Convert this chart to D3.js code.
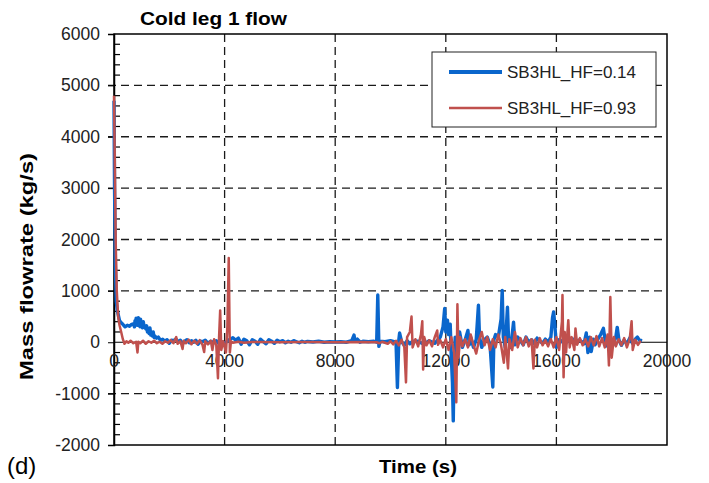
<!DOCTYPE html>
<html>
<head>
<meta charset="utf-8">
<script src="https://cdn.jsdelivr.net/npm/d3@7"></script>
<style>
  body { margin: 0; background: #fff; }
  text { font-family: "Liberation Sans", Arial, sans-serif; }
</style>
</head>
<body>
<svg width="709" height="483"></svg>
<script>
// series: [time (s), mass flowrate (kg/s)]
const seriesNames = ["SB3HL_HF=0.14", "SB3HL_HF=0.93"];
const seriesColors = ["#0a66cc", "#c0504d"];

const blueData = [
  [0,4700],[20,3000],[50,1500],[80,800],[120,620],[160,520],[200,420],[260,380],[320,350],[400,300],
  [480,330],[560,310],[640,350],[700,360],[740,300],[760,420],[790,330],[800,470],[820,360],[840,430],[860,330],[880,480],
  [900,350],[920,380],[940,300],[960,450],[980,320],[1000,340],[1030,280],[1060,400],[1090,290],[1120,300],[1150,260],[1180,320],
  [1210,200],[1240,220],[1270,170],[1300,280],[1330,140],[1360,160],[1390,120],[1420,200],[1450,90],[1480,120],[1540,80],
  [1600,100],[1680,40],[1760,60],[1840,20],[1920,50],[2000,-20],[2080,40],[2160,30],[2240,60],[2320,10],
  [2400,40],[2480,-30],[2560,20],[2640,50],[2720,-10],[2800,30],[2880,0],[2960,40],[3040,-40],[3120,20],
  [3200,10],[3300,40],[3400,-20],[3500,20],[3600,0],[3700,30],[3800,-30],[3900,10],[4000,-20],[4100,20],
  [4200,60],[4300,90],[4400,40],[4500,80],[4600,-40],[4700,60],[4800,30],[4900,-50],[5000,50],[5100,20],
  [5200,-40],[5300,60],[5400,10],[5500,-30],[5600,50],[5700,20],[5800,-20],[5900,40],[6000,10],[6100,30],
  [6200,-10],[6300,20],[6400,0],[6500,30],[6600,10],[6700,-10],[6800,20],[6900,0],[7000,15],[7200,5],
  [7400,20],[7600,0],[7800,10],[8000,5],[8200,10],[8400,0],[8600,30],[8680,140],[8720,20],[8800,60],
  [8900,0],[9000,20],[9200,10],[9400,20],[9500,0],[9540,920],[9580,-80],[9620,20],[9800,10],[10000,30],
  [10200,0],[10250,-880],[10300,40],[10330,180],[10400,10],[10500,-60],[10600,30],[10700,-30],[10800,20],[11000,20],
  [11200,-40],[11400,30],[11600,-20],[11800,100],[11900,300],[11960,660],[12000,200],[12060,430],[12100,150],[12160,350],
  [12200,-300],[12240,-780],[12270,-1530],[12300,-400],[12340,100],[12400,-200],[12500,200],[12600,-100],[12700,50],[12800,230],
  [12850,-50],[12900,100],[13000,-100],[13100,50],[13180,720],[13220,100],[13300,-100],[13400,50],[13500,100],[13600,-50],
  [13700,-870],[13740,50],[13800,150],[13900,100],[14000,450],[14040,1010],[14080,100],[14150,-100],[14230,680],[14270,50],
  [14350,-100],[14450,390],[14500,-50],[14600,100],[14700,30],[14800,-50],[14900,100],[15000,0],[15100,50],[15200,-30],
  [15300,80],[15400,20],[15500,-20],[15600,60],[15700,0],[15800,100],[15860,480],[15900,590],[15950,300],[16000,-100],
  [16100,50],[16200,20],[16300,-50],[16400,40],[16500,0],[16600,60],[16700,-20],[16800,40],[16900,20],[17000,-30],
  [17080,180],[17140,-200],[17200,100],[17260,-180],[17340,60],[17400,-50],[17500,60],[17600,150],[17700,270],[17760,50],
  [17850,-80],[17950,80],[18050,-50],[18150,100],[18200,290],[18260,50],[18350,-60],[18450,40],[18550,-30],[18650,80],
  [18750,-20],[18850,60],[18930,100],[19000,40],[19100,30]
];

const redData = [
  [0,4800],[30,3500],[60,2000],[100,1000],[150,500],[200,330],[260,200],[320,60],[380,-30],[450,20],
  [520,-10],[600,30],[700,-20],[800,10],[850,-200],[880,10],[950,-20],[1050,30],[1150,-30],[1250,20],
  [1350,-10],[1450,30],[1550,-20],[1650,10],[1750,-30],[1850,20],[1950,-10],[2050,40],[2150,-20],[2250,100],
  [2300,-30],[2400,20],[2480,-130],[2520,30],[2600,-20],[2700,50],[2800,-40],[2900,30],[3000,-30],[3100,40],
  [3200,-50],[3260,-190],[3300,20],[3400,-40],[3500,30],[3560,-150],[3620,60],[3700,-60],[3760,-700],[3800,100],
  [3840,620],[3880,-150],[3950,20],[4050,-200],[4100,300],[4150,1640],[4190,-200],[4230,20],[4300,-10],[4500,10],
  [4700,-10],[5000,5],[6000,0],[7000,5],[8000,0],[9000,5],[9500,0],[9600,-20],[9700,10],[9900,-30],
  [10000,20],[10100,-40],[10200,30],[10300,-60],[10400,50],[10500,-100],[10560,-780],[10600,100],[10700,200],[10760,500],
  [10800,-100],[10900,60],[11000,-80],[11100,150],[11150,410],[11180,-530],[11220,100],[11300,-60],[11400,40],[11500,-80],
  [11600,100],[11690,230],[11720,-50],[11800,40],[11900,-100],[12000,60],[12100,-150],[12200,100],[12300,-200],[12380,-1170],
  [12420,740],[12460,-300],[12520,100],[12600,-80],[12700,60],[12800,-100],[12900,150],[13000,-50],[13100,-220],[13200,40],
  [13300,200],[13400,-60],[13500,100],[13600,-150],[13700,60],[13800,-100],[13900,150],[14000,-60],[14100,-400],[14150,100],
  [14250,-510],[14300,60],[14400,-150],[14500,200],[14600,-100],[14700,80],[14800,-60],[14900,100],[15000,-80],[15100,60],
  [15170,-510],[15220,50],[15300,-100],[15400,80],[15500,-60],[15600,40],[15700,-80],[15800,60],[15900,-100],[16000,100],
  [16100,-150],[16200,400],[16220,920],[16260,-680],[16300,200],[16350,-200],[16430,430],[16480,-100],[16550,100],[16650,-150],
  [16690,270],[16750,-50],[16850,80],[16950,-60],[17050,60],[17150,-80],[17250,100],[17350,-60],[17450,120],[17550,-80],
  [17650,80],[17750,-100],[17850,150],[17900,-450],[17950,880],[18000,-300],[18080,100],[18150,-80],[18250,60],[18350,-60],
  [18450,80],[18550,-100],[18650,60],[18720,410],[18760,-150],[18850,50],[18950,-50],[19050,30]
];

const xTicks = [0, 4000, 8000, 12000, 16000, 20000];
const yTicks = [-2000, -1000, 0, 1000, 2000, 3000, 4000, 5000, 6000];

const svg = d3.select("svg");
const plotLeft = 114, plotRight = 667, plotTop = 34, plotBottom = 445;

const x = d3.scaleLinear().domain([0, 20000]).range([plotLeft, plotRight]);
const y = d3.scaleLinear().domain([-2000, 6000]).range([plotBottom, plotTop]);

// dashed grid
svg.append("g")
  .selectAll("line")
  .data(yTicks.filter(d => d !== 0 && d !== 6000 && d !== -2000))
  .join("line")
  .attr("x1", plotLeft - 6).attr("x2", plotRight)
  .attr("y1", d => y(d)).attr("y2", d => y(d))
  .attr("stroke", "#1a1a1a").attr("stroke-width", 1.3)
  .attr("stroke-dasharray", "8,5");

svg.append("g")
  .selectAll("line")
  .data(xTicks.filter(d => d !== 0 && d !== 20000))
  .join("line")
  .attr("x1", d => x(d)).attr("x2", d => x(d))
  .attr("y1", plotTop).attr("y2", plotBottom)
  .attr("stroke", "#1a1a1a").attr("stroke-width", 1.3)
  .attr("stroke-dasharray", "8,5");

// zero line
svg.append("line")
  .attr("x1", plotLeft).attr("x2", plotRight)
  .attr("y1", y(0)).attr("y2", y(0))
  .attr("stroke", "#000").attr("stroke-width", 1.2);

// frame
svg.append("rect")
  .attr("x", plotLeft).attr("y", plotTop)
  .attr("width", plotRight - plotLeft).attr("height", plotBottom - plotTop)
  .attr("fill", "none").attr("stroke", "#000").attr("stroke-width", 1.5);

// y axis
const yAxis = svg.append("g")
  .attr("transform", `translate(${plotLeft},0)`)
  .call(d3.axisLeft(y).tickValues(yTicks).tickSize(6).tickPadding(8).tickFormat(d => String(d)));
yAxis.select(".domain").attr("stroke-width", 1.5);
yAxis.selectAll("text").attr("font-size", 17.5).attr("fill", "#222")
  .attr("font-family", "'Liberation Sans', Arial, sans-serif");

// minor ticks inside
const minor = d3.range(-2000, 6001, 200).filter(d => d % 1000 !== 0);
svg.append("g")
  .selectAll("line")
  .data(minor)
  .join("line")
  .attr("x1", plotLeft).attr("x2", plotLeft + 6)
  .attr("y1", d => y(d)).attr("y2", d => y(d))
  .attr("stroke", "#000").attr("stroke-width", 1.2);

// x tick labels sit under the zero line
svg.append("g")
  .selectAll("text")
  .data(xTicks)
  .join("text")
  .attr("x", d => x(d))
  .attr("y", y(0) + 25)
  .attr("text-anchor", "middle")
  .attr("font-size", 17.5)
  .attr("fill", "#222")
  .text(d => d);

// lines
const line = d3.line().x(d => x(d[0])).y(d => y(d[1]));
svg.append("path")
  .datum(blueData)
  .attr("d", line)
  .attr("fill", "none")
  .attr("stroke", seriesColors[0])
  .attr("stroke-width", 3.4)
  .attr("stroke-linejoin", "round");
svg.append("path")
  .datum(redData)
  .attr("d", line)
  .attr("fill", "none")
  .attr("stroke", seriesColors[1])
  .attr("stroke-width", 2.5)
  .attr("stroke-linejoin", "round");

// legend
const legend = svg.append("g").attr("transform", "translate(432,52)");
legend.append("rect")
  .attr("width", 224).attr("height", 75)
  .attr("fill", "#fff").attr("stroke", "#222").attr("stroke-width", 1);
seriesNames.forEach((name, i) => {
  const ly = 20 + i * 36;
  legend.append("line")
    .attr("x1", 17).attr("x2", 70)
    .attr("y1", ly).attr("y2", ly)
    .attr("stroke", seriesColors[i])
    .attr("stroke-width", i === 0 ? 4 : 2.4);
  legend.append("text")
    .attr("x", 75).attr("y", ly + 6)
    .attr("font-size", 17).attr("fill", "#222")
    .text(name);
});

// titles
svg.append("text")
  .attr("x", 140).attr("y", 25)
  .attr("font-size", 19).attr("font-weight", "bold")
  .attr("textLength", 147).attr("lengthAdjust", "spacingAndGlyphs")
  .text("Cold leg 1 flow");

svg.append("text")
  .attr("x", 379).attr("y", 473)
  .attr("font-size", 18).attr("font-weight", "bold")
  .attr("textLength", 78).attr("lengthAdjust", "spacingAndGlyphs")
  .text("Time (s)");

svg.append("text")
  .attr("transform", "translate(33,380) rotate(-90)")
  .attr("font-size", 18).attr("font-weight", "bold")
  .attr("textLength", 227).attr("lengthAdjust", "spacingAndGlyphs")
  .text("Mass flowrate (kg/s)");

svg.append("text")
  .attr("x", 7).attr("y", 474)
  .attr("font-size", 24)
  .text("(d)");
</script>
</body>
</html>
